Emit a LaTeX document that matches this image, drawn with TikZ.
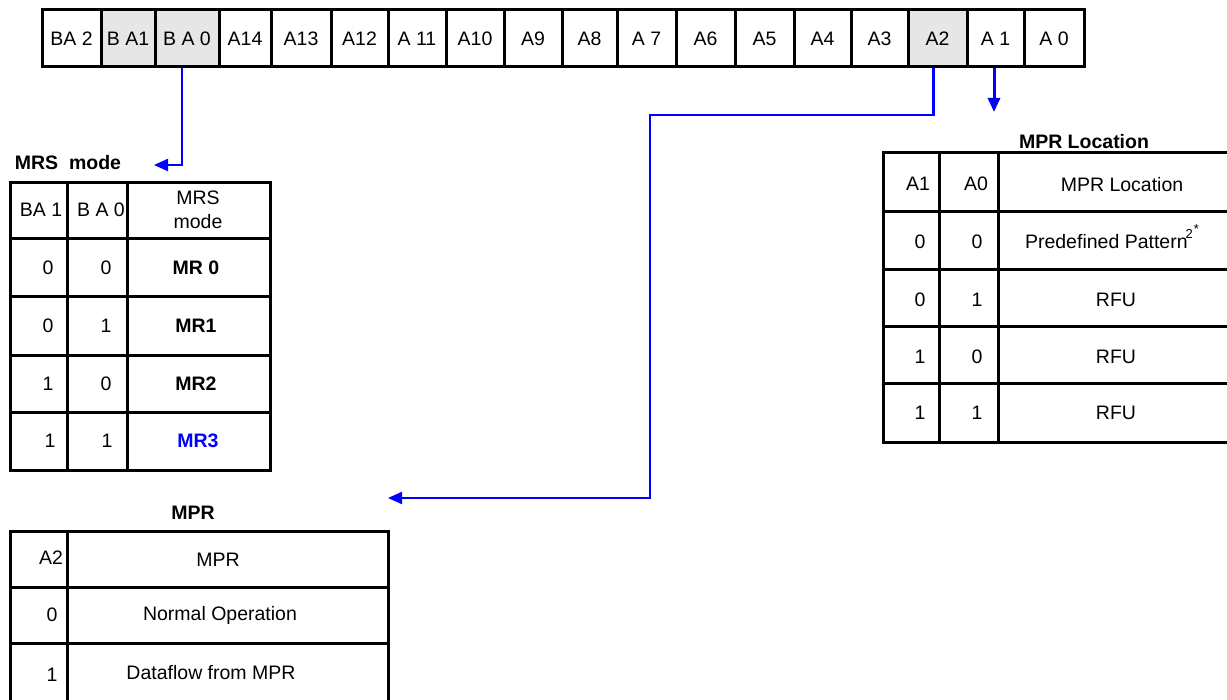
\documentclass[tikz,border=0pt]{standalone}
\usepackage{fontspec}
\setmainfont{Liberation Sans}
\usepackage{xcolor}
\usetikzlibrary{arrows.meta}

\definecolor{regfill}{HTML}{E6E6E6}
\definecolor{linkblue}{HTML}{0000FF}

\begin{document}
\begin{tikzpicture}[x=1pt, y=-1pt,
        cell/.style={rectangle, draw, line width=3pt, minimum height=57pt, inner sep=0pt, font=\fontsize{19.5}{22}\selectfont},
        grid/.style={line width=3pt},
        txt/.style={inner sep=0pt, font=\fontsize{19.5}{24}\selectfont, align=center},
        title/.style={inner sep=0pt, font=\fontsize{19.5}{22}\selectfont\bfseries},
        link/.style={draw=linkblue, line width=2.2pt, -{Triangle[length=14pt,width=12pt]}}
    ]
        \useasboundingbox (0,0) rectangle (1227,700);

        % Address register
        \foreach \l/\r/\t/\n/\f in {42/101/BA 2/ba2/white, 101/155/B A1/ba1/regfill, 155/219/B A 0/ba0/regfill,
                219/271/A14/a14/white, 271/331/A13/a13/white, 331/388/A12/a12/white, 388/446/A 11/a11/white,
                446/504/A10/a10/white, 504/562/A9/a9/white, 562/617/A8/a8/white, 617/676/A 7/a7/white,
                676/735/A6/a6/white, 735/794/A5/a5/white, 794/851/A4/a4/white, 851/908/A3/a3/white,
                908/967/A2/a2/regfill, 967/1024/A 1/a1/white, 1024/1084/A 0/a0/white}
            \node[cell, fill=\f, minimum width={(\r-\l)*1pt}] (\n) at ({(\l+\r)/2},38.5) {\t};

        % MRS mode table
        \node[title] (mrstitle) at (68,163) {MRS\ \ mode};
        \draw[grid] (10,183) rectangle (270,471);
        \foreach \y in {239,297,356,413}
            \draw[grid] (10,\y) -- (270,\y);
        \foreach \x in {67,127}
            \draw[grid] (\x,183) -- (\x,471);
        \node[txt] (mrsba1) at (41,210) {BA 1};
        \node[txt] (mrsba0) at (101,210) {B A 0};
        \node[txt] (mrshead) at (198,210) {MRS\\mode};
        \foreach \a/\b/\m/\y/\n in {0/0/MR 0/268/r0, 0/1/MR1/326/r1, 1/0/MR2/384/r2} {
            \node[txt] (mrs\n a) at (48,\y) {\a};
            \node[txt] (mrs\n b) at (106,\y) {\b};
            \node[txt, font=\fontsize{19.5}{22}\selectfont\bfseries] (mrs\n m) at (196,\y) {\m};
        }
        \node[txt] (mrsr3a) at (50,441) {1};
        \node[txt] (mrsr3b) at (107,441) {1};
        \node[txt, font=\fontsize{19.5}{22}\selectfont\bfseries, text=linkblue] (mrsr3m) at (198,441) {MR3};

        % MPR Location table
        \node[title] (loctitle) at (1084,142) {MPR Location};
        \draw[grid] (1227,153) -- (883,153) -- (883,443) -- (1227,443);
        \foreach \y in {212,270,327,384}
            \draw[grid] (883,\y) -- (1227,\y);
        \foreach \x in {939,998}
            \draw[grid] (\x,153) -- (\x,443);
        \node[txt] (loca1) at (918,184) {A1};
        \node[txt] (loca0) at (976,184) {A0};
        \node[txt] (lochead) at (1122,185) {MPR Location};
        \node[txt] (locr0a) at (920,242) {0};
        \node[txt] (locr0b) at (977,242) {0};
        \node[txt, anchor=base] (locr0t) at (1112,249) {Predefined Pattern\kern-2pt\raisebox{1.0ex}{\fontsize{13}{13}\selectfont 2}\kern1pt\raisebox{1.5ex}{\fontsize{13}{13}\selectfont *}};
        \foreach \a/\b/\y/\n in {0/1/300/r1, 1/0/357/r2, 1/1/413/r3} {
            \node[txt] (loc\n a) at (920,\y) {\a};
            \node[txt] (loc\n b) at (977,\y) {\b};
            \node[txt] (loc\n t) at (1116,\y) {RFU};
        }

        % MPR table
        \node[title] (mprtitle) at (193,513) {MPR};
        \draw[grid] (10,700) -- (10,531) -- (388,531) -- (388,700);
        \foreach \y in {587,643}
            \draw[grid] (10,\y) -- (388,\y);
        \draw[grid] (67,531) -- (67,700);
        \node[txt] (mpra2) at (51,558) {A2};
        \node[txt] (mprhead) at (218,560) {MPR};
        \node[txt] (mpr0) at (52,615) {0};
        \node[txt] (mpr0t) at (220,615) {Normal Operation};
        \node[txt] (mpr1) at (52,675) {1};
        \node[txt] (mpr1t) at (211,673) {Dataflow from MPR};

        % Arrows
        \coordinate (mrsin) at (154,165);
        \coordinate (mprbend) at (650,115);
        \coordinate (mprin) at (388,498);
        \coordinate (locin) at (994,112);
        \draw[link] ([xshift=-5pt]ba0.south) |- (mrsin);
        \draw[link] ([xshift=-4pt]a2.south) |- (mprbend) |- (mprin);
        \draw[link, line width=3pt] ([xshift=-1.5pt]a1.south) -- (locin);
    \end{tikzpicture}
\end{document}
